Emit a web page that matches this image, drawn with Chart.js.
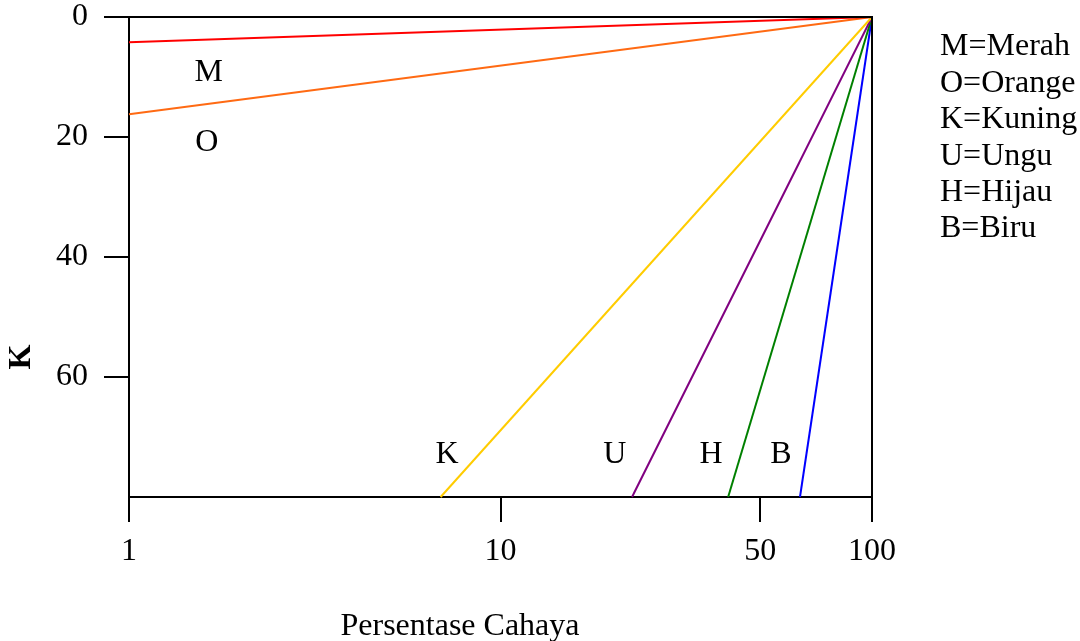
<!DOCTYPE html>
<html>
<head>
<meta charset="utf-8">
<script src="https://cdn.jsdelivr.net/npm/chart.js@4"></script>
<style>
  html, body { margin: 0; padding: 0; background: #fff; }
  #wrap { width: 1080px; height: 641px; }
</style>
</head>
<body>
<div id="wrap"><canvas id="lightChart" width="1080" height="641"></canvas></div>
<script>
// color series: code, name, start point of each line (light %, K); all end at (100, 0)
const codes = ['M', 'O', 'K', 'U', 'H', 'B']
const names = ['Merah', 'Orange', 'Kuning', 'Ungu', 'Hijau', 'Biru']
const startX = [1, 1, 6.9, 22.6, 41, 64]
const startY = [4.2, 16.2, 80, 80, 80, 80]
const endX = 100
const endY = 0
const colors = ['#ff0000', '#ff6a13', '#ffcc00', '#800080', '#008000', '#0000ff']

// where the letters sit inside the plot (data coords)
const labelX = [1.64, 1.62, 7.18, 20.3, 36.9, 56.9]
const labelY = [9.2, 21, 73, 73, 73, 73]

const xTicks = [1, 10, 50, 100]
const yTicks = [0, 20, 40, 60]

const font = 'Liberation Serif'
const fs = 32

const datasets = codes.map((c, i) => ({
    label: c,
    data: [{x: startX[i], y: startY[i]}, {x: endX, y: endY}],
    borderColor: colors[i],
    borderWidth: 2,
    pointRadius: 0,
    showLine: true,
    fill: false,
    clip: false
}))

const textPlugin = {
    id: 'texts',
    afterDraw(chart) {
        const ctx = chart.ctx
        const xs = chart.scales.x, ys = chart.scales.y
        ctx.save()
        ctx.fillStyle = '#000'
        ctx.font = fs + 'px "' + font + '"'
        ctx.textAlign = 'center'
        ctx.textBaseline = 'middle'
        codes.forEach((c, i) => {
            ctx.fillText(c, xs.getPixelForValue(labelX[i]), ys.getPixelForValue(labelY[i]))
        })
        // legend text on the right
        ctx.textAlign = 'left'
        codes.forEach((c, i) => {
            ctx.fillText(c + '=' + names[i], 940, 47 + i * 36.4)
        })
        // axis titles
        ctx.textAlign = 'center'
        ctx.fillText('Persentase Cahaya', 460, 627)
        ctx.translate(22, 357)
        ctx.rotate(-Math.PI / 2)
        ctx.font = 'bold ' + fs + 'px "' + font + '"'
        ctx.fillText('K', 0, 0)
        ctx.restore()

        // frame top and right
        const a = chart.chartArea
        ctx.save()
        ctx.strokeStyle = '#000'
        ctx.lineWidth = 2
        ctx.beginPath()
        ctx.moveTo(a.left, a.top)
        ctx.lineTo(a.right, a.top)
        ctx.lineTo(a.right, a.bottom)
        ctx.stroke()
        ctx.restore()
    }
}

const options = {
    responsive: false,
    animation: false,
    layout: { padding: { left: 0, top: 17, right: 208, bottom: 0 } },
    plugins: {
        legend: { display: false },
        tooltip: { enabled: false }
    },
    scales: {
        x: {
            type: 'logarithmic',
            min: 1,
            max: 100,
            afterBuildTicks: (s) => { s.ticks = xTicks.map(v => ({value: v})) },
            afterFit: (s) => { s.height = 144; s.paddingLeft = 0; s.paddingRight = 0 },
            ticks: {
                color: '#000',
                font: { family: font, size: fs },
                padding: 10,
                maxRotation: 0,
                autoSkip: false,
                callback: (v) => String(v)
            },
            grid: { drawOnChartArea: false, color: '#000', tickColor: '#000', tickLength: 25, lineWidth: 2 },
            border: { color: '#000', width: 2 }
        },
        y: {
            type: 'linear',
            reverse: true,
            min: 0,
            max: 80,
            afterBuildTicks: (s) => { s.ticks = yTicks.map(v => ({value: v})) },
            afterFit: (s) => { s.width = 129; s.paddingTop = 0; s.paddingBottom = 0 },
            ticks: {
                color: '#000',
                font: { family: font, size: fs },
                padding: 16
            },
            grid: { drawOnChartArea: false, color: '#000', tickColor: '#000', tickLength: 25, lineWidth: 2 },
            border: { color: '#000', width: 2 }
        }
    }
}

new Chart('lightChart', {type: 'scatter', data: {datasets}, options, plugins: [textPlugin]})
</script>
</body>
</html>
